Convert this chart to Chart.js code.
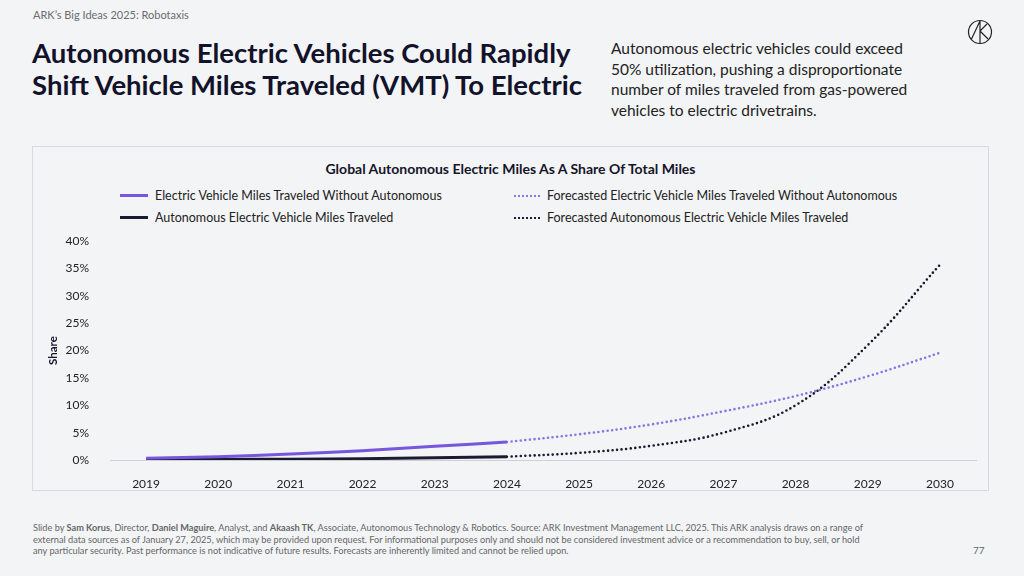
<!DOCTYPE html>
<html lang="en">
<head>
    <meta charset="UTF-8">
    <title>Autonomous Electric Miles</title>
    <script src="https://cdn.jsdelivr.net/npm/chart.js"></script>
    <style>
        body {
            margin: 0;
            width: 1024px;
            height: 576px;
            background: #f3f4f6;
            font-family: Lato, "Open Sans", sans-serif;
            color: #15152a;
            position: relative;
            overflow: hidden;
        }
        .kicker {
            position: absolute;
            left: 33px;
            top: 8px;
            font-size: 11px;
            color: #6b6b73;
        }
        .headline {
            position: absolute;
            left: 32px;
            top: 37px;
            font-size: 27.5px;
            font-weight: 700;
            line-height: 32px;
            color: #12122a;
            white-space: nowrap;
        }
        .summary {
            position: absolute;
            left: 611px;
            top: 38px;
            width: 320px;
            font-size: 15.5px;
            line-height: 20.5px;
            color: #222;
        }
        .logo {
            position: absolute;
            left: 967px;
            top: 19px;
        }
        .box {
            position: absolute;
            left: 32px;
            top: 146px;
            width: 957px;
            height: 345px;
            border: 1px solid #d9d9de;
            box-sizing: border-box;
        }
        .chart-title {
            position: absolute;
            left: 0;
            width: 100%;
            top: 13px;
            text-align: center;
            font-size: 14px;
            font-weight: 700;
            color: #15152a;
        }
        .legend {
            position: absolute;
            top: 41px;
            left: 87px;
            font-size: 12.5px;
            color: #222;
        }
        .legend-item {
            position: absolute;
            white-space: nowrap;
            display: flex;
            align-items: center;
        }
        .legend-item .swatch {
            width: 28px;
            height: 0;
            margin-right: 7px;
        }
        .chart-wrap {
            position: absolute;
            left: 33px;
            top: 221px;
            width: 956px;
            height: 269px;
        }
        .footer {
            position: absolute;
            left: 33px;
            top: 522px;
            width: 835px;
            font-size: 9.2px;
            line-height: 11.5px;
            color: #666;
        }
        .page {
            position: absolute;
            left: 973px;
            top: 544px;
            font-size: 10px;
            color: #666;
        }
    </style>
</head>
<body>
<div class="kicker">ARK’s Big Ideas 2025: Robotaxis</div>
<div class="headline">Autonomous Electric Vehicles Could Rapidly<br>Shift Vehicle Miles Traveled (VMT) To Electric</div>
<div class="summary">Autonomous electric vehicles could exceed 50% utilization, pushing a disproportionate number of miles traveled from gas-powered vehicles to electric drivetrains.</div>
<svg class="logo" width="26" height="26" viewBox="0 0 26 26">
    <circle cx="13" cy="13" r="11.5" fill="none" stroke="#222" stroke-width="1.2"/>
    <path d="M4.5 20 L13 2 L13 24 M13 12 L20 5 M13 12 L21 20" fill="none" stroke="#222" stroke-width="1.2"/>
</svg>

<div class="box">
    <div class="chart-title">Global Autonomous Electric Miles As A Share Of Total Miles</div>
    <div class="legend" id="legend"></div>
</div>
<div class="chart-wrap"><canvas id="chart"></canvas></div>

<div class="footer">Slide by <b>Sam Korus</b>, Director, <b>Daniel Maguire</b>, Analyst, and <b>Akaash TK</b>, Associate, Autonomous Technology &amp; Robotics. Source: ARK Investment Management LLC, 2025. This ARK analysis draws on a range of external data sources as of January 27, 2025, which may be provided upon request. For informational purposes only and should not be considered investment advice or a recommendation to buy, sell, or hold any particular security. Past performance is not indicative of future results. Forecasts are inherently limited and cannot be relied upon.</div>
<div class="page">77</div>

<script>
    // data (share of total miles, %)
    const years = ['2019', '2020', '2021', '2022', '2023', '2024', '2025', '2026', '2027', '2028', '2029', '2030'];
    const evMiles = [0.3, 0.6, 1.1, 1.7, 2.5, 3.3, null, null, null, null, null, null];
    const avMiles = [0.05, 0.1, 0.15, 0.25, 0.4, 0.6, null, null, null, null, null, null];
    const evForecast = [null, null, null, null, null, 3.3, 4.7, 6.5, 8.9, 11.7, 15.3, 19.6];
    const avForecast = [null, null, null, null, null, 0.6, 1.3, 2.6, 5.0, 10.0, 21.0, 35.7];
    const yTicks = [0, 5, 10, 15, 20, 25, 30, 35, 40];

    const seriesNames = [
        'Electric Vehicle Miles Traveled Without Autonomous',
        'Autonomous Electric Vehicle Miles Traveled',
        'Forecasted Electric Vehicle Miles Traveled Without Autonomous',
        'Forecasted Autonomous Electric Vehicle Miles Traveled'
    ];

    const purple = '#7657de';
    const purpleDot = '#8a74e3';
    const navy = '#1b1a30';

    function solid(label, data, color) {
        return {
            label: label,
            data: data,
            borderColor: color,
            borderWidth: 3,
            pointRadius: 0,
            tension: 0.4,
            fill: false
        };
    }

    function dotted(label, data, color) {
        return {
            label: label,
            data: data,
            borderColor: color,
            borderWidth: 2.6,
            borderDash: [0, 4.6],
            borderCapStyle: 'round',
            pointRadius: 0,
            tension: 0.4,
            fill: false
        };
    }

    const datasets = [
        solid(seriesNames[0], evMiles, purple),
        solid(seriesNames[1], avMiles, navy),
        dotted(seriesNames[2], evForecast, purpleDot),
        dotted(seriesNames[3], avForecast, navy)
    ];

    // legend laid out as 2 x 2 like the slide
    const legend = document.getElementById('legend');
    const legendPos = [[0, 0], [0, 22], [394, 0], [394, 22]];
    datasets.forEach((ds, i) => {
        const item = document.createElement('div');
        item.className = 'legend-item';
        item.style.left = legendPos[i][0] + 'px';
        item.style.top = legendPos[i][1] + 'px';
        const sw = document.createElement('span');
        sw.className = 'swatch';
        if (ds.borderDash) {
            sw.style.borderTop = '2px dotted ' + ds.borderColor;
            sw.style.width = '26px';
        } else {
            sw.style.borderTop = '3px solid ' + ds.borderColor;
        }
        const txt = document.createElement('span');
        txt.textContent = ds.label;
        item.appendChild(sw);
        item.appendChild(txt);
        legend.appendChild(item);
    });

    Chart.defaults.font.family = 'Lato, "Open Sans", sans-serif';
    Chart.defaults.color = '#222';

    new Chart(document.getElementById('chart'), {
        type: 'line',
        data: {
            labels: years,
            datasets: datasets
        },
        options: {
            responsive: true,
            maintainAspectRatio: false,
            animation: false,
            layout: {
                padding: { top: 5, right: 13, left: 0, bottom: 0 }
            },
            plugins: {
                legend: { display: false },
                tooltip: { enabled: false }
            },
            scales: {
                x: {
                    offset: true,
                    grid: { display: false },
                    border: { display: true, color: '#cfd0d6', width: 1 },
                    ticks: { padding: 9, font: { size: 12 }, color: '#222' },
                    afterFit: (scale) => { scale.height = 30; }
                },
                y: {
                    min: 0,
                    max: 40,
                    afterBuildTicks: (scale) => {
                        scale.ticks = yTicks.map(v => ({ value: v }));
                    },
                    grid: { display: false },
                    border: { display: false },
                    ticks: {
                        padding: 13,
                        font: { size: 12 },
                        color: '#222',
                        callback: (v) => v + '%'
                    },
                    title: {
                        display: true,
                        text: 'Share',
                        font: { size: 11.5, weight: 'bold' },
                        color: '#15152a',
                        padding: { top: 13, bottom: 0 }
                    },
                    afterFit: (scale) => { scale.width = 77; }
                }
            }
        }
    });
</script>
</body>
</html>
